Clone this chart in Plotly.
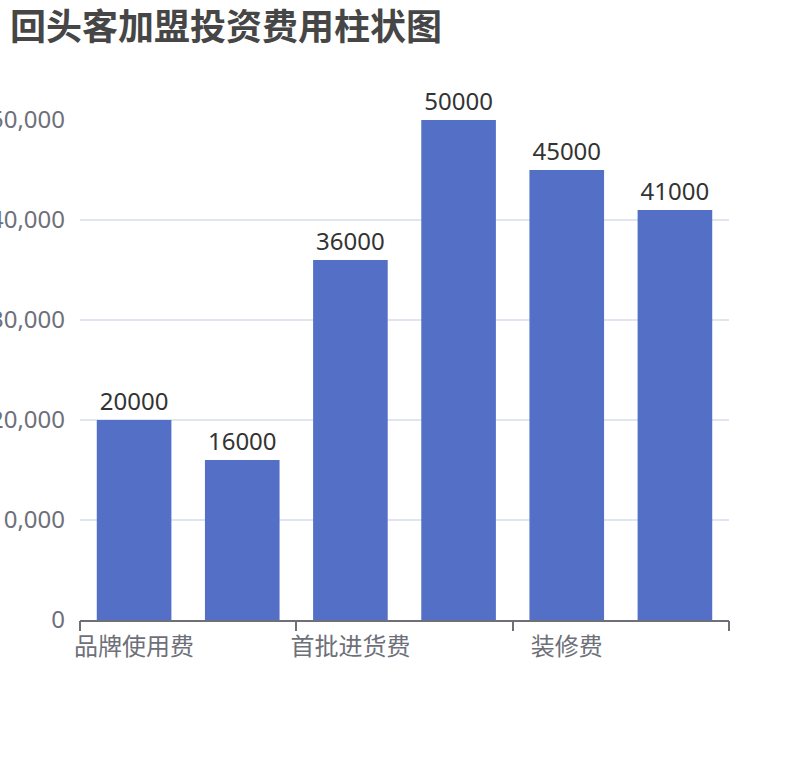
import plotly.graph_objects as go

categories = ["品牌使用费", "加盟保证金", "首批进货费", "设备费用", "装修费", "流动资金"]
values = [20000, 16000, 36000, 50000, 45000, 41000]
shown_labels = ["品牌使用费", "首批进货费", "装修费"]
y_ticks = [0, 10000, 20000, 30000, 40000, 50000]
boundary_ticks = [-0.5, 1.5, 3.5, 5.5]

FONT = "Noto Sans, Noto Sans CJK SC, sans-serif"
AXIS_C = "#6E7079"

fig = go.Figure()
fig.add_trace(go.Bar(
    x=categories, y=values,
    marker=dict(color="#5470C6", line=dict(width=0)),
    width=0.69,
    text=[str(v) for v in values],
    textposition="outside",
    textfont=dict(size=24, color="#333333", family=FONT),
    cliponaxis=False,
))
# invisible helper trace so the boundary-tick axis is drawn
fig.add_trace(go.Scatter(x=boundary_ticks, y=[None] * len(boundary_ticks),
                         xaxis="x2", yaxis="y", mode="markers",
                         hoverinfo="skip", showlegend=False))

fig.update_layout(
    width=810, height=760,
    margin=dict(l=80, r=81, t=120, b=140),
    paper_bgcolor="white", plot_bgcolor="white",
    showlegend=False,
    title=dict(text="<b>回头客加盟投资费用柱状图</b>", x=10/810, xref="container", xanchor="left",
               y=1 - 27/760, yref="container", yanchor="middle", pad=dict(l=0, t=0, b=0, r=0),
               font=dict(size=36, color="#464646", family="Noto Sans CJK SC, sans-serif")),
    xaxis=dict(
        type="category", range=[-0.5, 5.5],
        tickmode="array", tickvals=shown_labels, ticktext=shown_labels,
        ticks="", showgrid=False, showline=True, linecolor=AXIS_C, linewidth=1.5,
        tickfont=dict(size=24, color=AXIS_C, family="Noto Sans CJK SC, sans-serif"),
        ticklabelstandoff=4, fixedrange=True, automargin=False,
    ),
    xaxis2=dict(
        overlaying="x", anchor="y", side="bottom", range=[-0.5, 5.5],
        tickmode="array", tickvals=boundary_ticks,
        ticks="outside", ticklen=10, tickwidth=1.5, tickcolor=AXIS_C,
        showticklabels=False, showgrid=False, showline=False, zeroline=False,
        automargin=False,
    ),
    yaxis=dict(
        range=[0, 50000], tickmode="array", tickvals=y_ticks,
        tickformat=",d", showgrid=True, gridcolor="#E0E6F1", gridwidth=1.5,
        zeroline=False, showline=False, ticks="",
        tickfont=dict(size=24, color=AXIS_C, family=FONT),
        ticklabelstandoff=14, automargin=False,
    ),
    bargap=0.31,
)

fig.write_html("out.html")
